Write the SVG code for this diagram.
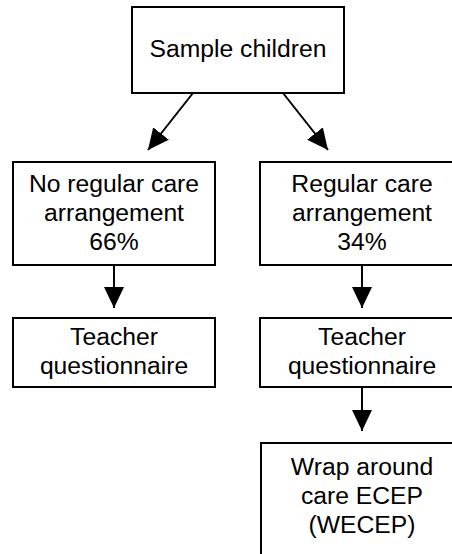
<svg xmlns="http://www.w3.org/2000/svg" width="452" height="554" viewBox="0 0 452 554">
<style>
.box{fill:#fff;stroke:#000;stroke-width:2}
.t{font-family:"Liberation Sans",Arial,sans-serif;font-size:24.7px;fill:#000;text-anchor:middle}
.c{stroke:#000;stroke-width:2;fill:none;marker-end:url(#ah)}
</style>
<defs>
<marker id="ah" markerUnits="userSpaceOnUse" markerWidth="22" markerHeight="20" refX="21" refY="10" orient="auto" viewBox="0 0 22 20">
<path d="M0,0 L21,10 L0,20 z" fill="#000"/>
</marker>
</defs>
<rect width="452" height="554" fill="#fff"/>
<g id="connectors">
<line class="c" x1="193" y1="93" x2="148" y2="150"/>
<line class="c" x1="283" y1="93" x2="328" y2="150"/>
<line class="c" x1="114" y1="265" x2="114" y2="308"/>
<line class="c" x1="362" y1="265" x2="362" y2="308"/>
<line class="c" x1="362" y1="387" x2="362" y2="431"/>
</g>
<g id="sample">
<rect class="box" x="132" y="7" width="212" height="86"/>
<text class="t" x="238" y="57">Sample children</text>
</g>
<g id="noregular">
<rect class="box" x="13" y="162" width="202" height="103"/>
<text class="t" x="114" y="192">No regular care</text>
<text class="t" x="114" y="221">arrangement</text>
<text class="t" x="114" y="250">66%</text>
</g>
<g id="regular">
<rect class="box" x="260" y="162" width="204" height="103"/>
<text class="t" x="362" y="192">Regular care</text>
<text class="t" x="362" y="221">arrangement</text>
<text class="t" x="362" y="250">34%</text>
</g>
<g id="teacher1">
<rect class="box" x="13" y="318" width="202" height="69"/>
<text class="t" x="114" y="345">Teacher</text>
<text class="t" x="114" y="374">questionnaire</text>
</g>
<g id="teacher2">
<rect class="box" x="260" y="318" width="204" height="69"/>
<text class="t" x="362" y="345">Teacher</text>
<text class="t" x="362" y="374">questionnaire</text>
</g>
<g id="wecep">
<rect class="box" x="261" y="443" width="203" height="120"/>
<text class="t" x="362" y="475">Wrap around</text>
<text class="t" x="362" y="504">care ECEP</text>
<text class="t" x="362" y="533">(WECEP)</text>
</g>
</svg>
